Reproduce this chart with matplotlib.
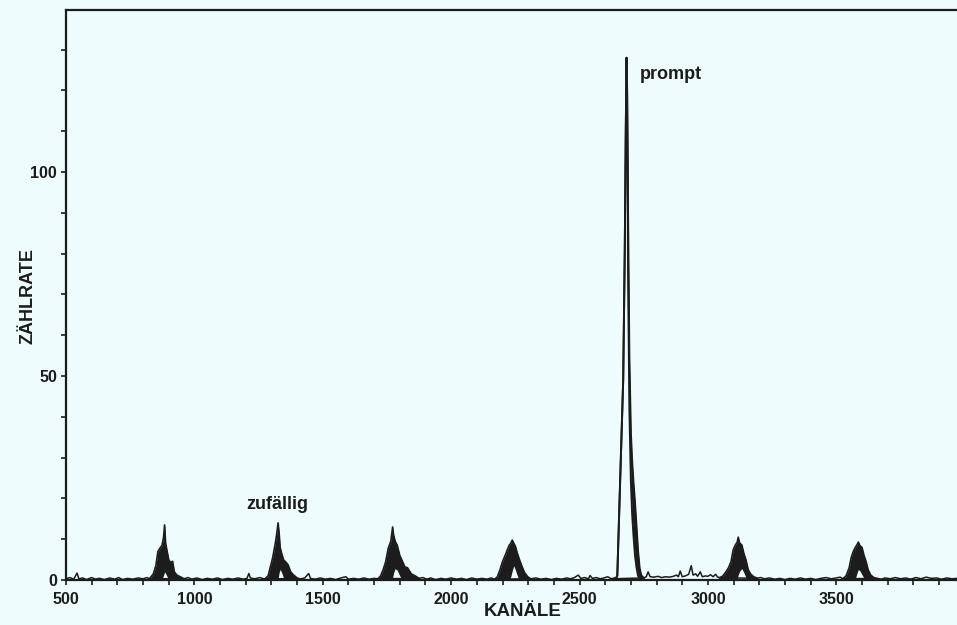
import matplotlib
matplotlib.use("Agg")
import matplotlib.pyplot as plt
from matplotlib.ticker import MultipleLocator

plt.rcParams['font.family'] = ['Liberation Sans', 'DejaVu Sans']

# untergrund zwischen den peaks (kanal, zaehlrate)
bg_ch = [500, 515, 530, 543, 550, 565, 580, 600, 615, 630, 650, 670, 690, 705, 720, 740, 760, 780, 800, 815, 825,
         960, 975, 990, 1010, 1030, 1050, 1070, 1090, 1110, 1130, 1150, 1170, 1190, 1205, 1212, 1218, 1235, 1255, 1270,
         1415, 1430, 1445, 1452, 1470, 1490, 1510, 1530, 1550, 1570, 1590, 1600, 1620, 1640, 1660, 1680, 1700, 1715,
         1875, 1890, 1905, 1920, 1940, 1960, 1980, 2000, 2020, 2040, 2060, 2080, 2100, 2120, 2140, 2155, 2170,
         2310, 2330, 2350, 2370, 2390, 2410, 2430, 2450, 2465, 2480, 2495, 2505, 2520, 2535, 2541, 2550, 2565, 2580,
         2595, 2610, 2620, 2630,
         2750, 2760, 2767, 2775, 2790, 2805, 2820, 2835, 2850, 2865, 2878, 2885, 2892, 2900, 2912, 2925, 2935, 2942,
         2952, 2960, 2970, 2978, 2990, 3000, 3010, 3020, 3030, 3038, 3045,
         3190, 3205, 3220, 3240, 3260, 3280, 3300, 3320, 3340, 3360, 3380, 3400, 3420, 3440, 3460, 3480, 3500, 3515, 3525,
         3660, 3675, 3690, 3710, 3730, 3750, 3770, 3790, 3810, 3830, 3850, 3870, 3890, 3910, 3930, 3950, 3970]
bg_ct = [0.3, 0.6, 0.2, 1.7, 0.3, 0.5, 0.1, 0.6, 0.2, 0.4, 0.1, 0.5, 0.2, 0.6, 0.1, 0.4, 0.2, 0.5, 0.3, 0.6, 0.3,
         0.3, 0.6, 0.2, 0.5, 0.1, 0.4, 0.2, 0.5, 0.1, 0.4, 0.2, 0.5, 0.2, 0.4, 1.6, 0.5, 0.3, 0.6, 0.3,
         0.3, 0.5, 1.6, 0.4, 0.2, 0.5, 0.2, 0.4, 0.1, 0.5, 0.8, 0.2, 0.4, 0.2, 0.5, 0.2, 0.4, 0.3,
         0.4, 0.6, 0.2, 0.5, 0.1, 0.4, 0.2, 0.5, 0.2, 0.4, 0.1, 0.5, 0.2, 0.4, 0.2, 0.5, 0.2,
         0.3, 0.5, 0.2, 0.4, 0.1, 0.4, 0.2, 0.5, 0.3, 0.6, 1.2, 0.4, 0.6, 0.3, 1.1, 0.4, 0.6, 0.3,
         0.5, 0.8, 0.4, 0.3,
         0.5, 0.8, 2.0, 0.8, 0.7, 0.9, 0.6, 0.8, 0.7, 0.9, 1.2, 0.8, 2.2, 0.8, 1.0, 1.4, 3.5, 1.2,
         1.5, 0.9, 2.0, 0.8, 1.0, 0.9, 1.3, 0.8, 1.4, 0.7, 0.6,
         0.4, 0.6, 0.3, 0.5, 0.2, 0.4, 0.1, 0.4, 0.2, 0.5, 0.2, 0.4, 0.1, 0.4, 0.6, 0.3, 0.5, 0.7, 0.3,
         0.4, 0.2, 0.5, 0.3, 0.6, 0.3, 0.5, 0.2, 0.6, 0.3, 0.7, 0.4, 0.5, 0.2, 0.5, 0.3, 0.4]

# zufaellige koinzidenzen: obere und untere huellkurve
p1_ch = [825, 840, 850, 858, 866, 874, 880, 884, 888, 894, 900, 908, 915, 922, 932, 945, 960]
p1_hi = [0.3, 1.5, 3.5, 7.0, 7.8, 8.5, 10.5, 13.5, 9.0, 7.0, 5.0, 4.2, 4.6, 2.0, 1.2, 0.8, 0.3]
p1_lo = [0, 0, 0, 0, 0, 0.2, 1.2, 2.0, 1.6, 0.8, 0, 0, 0, 0, 0, 0, 0]

p2_ch = [1275, 1287, 1297, 1305, 1314, 1320, 1326, 1330, 1334, 1340, 1347, 1356, 1365, 1375, 1385, 1400, 1415]
p2_hi = [0.3, 1.0, 3.5, 5.5, 8.6, 11.0, 14.0, 11.5, 8.0, 6.5, 5.0, 4.4, 3.7, 2.0, 1.3, 0.5, 0.2]
p2_lo = [0, 0, 0, 0, 0, 0, 0.3, 1.8, 2.6, 1.8, 0.5, 0, 0, 0, 0, 0, 0]

p3_ch = [1715, 1725, 1735, 1745, 1755, 1765, 1772, 1776, 1782, 1790, 1800, 1810, 1820, 1830, 1845, 1860, 1875]
p3_hi = [0.3, 1.0, 2.5, 4.5, 7.8, 9.5, 13.0, 11.0, 9.5, 8.5, 6.0, 4.6, 3.2, 3.0, 1.5, 1.0, 0.4]
p3_lo = [0, 0, 0, 0, 0, 0, 0.6, 1.8, 2.8, 2.4, 1.0, 0, 0, 0, 0, 0, 0]

p4_ch = [2170, 2180, 2190, 2200, 2210, 2218, 2226, 2232, 2238, 2244, 2250, 2258, 2266, 2276, 2286, 2298, 2310]
p4_hi = [0.2, 0.8, 2.5, 4.5, 6.0, 7.3, 8.5, 9.0, 9.8, 9.0, 8.3, 6.5, 5.0, 3.3, 1.8, 0.8, 0.3]
p4_lo = [0, 0, 0, 0, 0, 0, 0, 0.8, 2.3, 3.5, 2.5, 1.0, 0, 0, 0, 0, 0]

p5_ch = [3045, 3058, 3070, 3080, 3090, 3098, 3106, 3114, 3118, 3124, 3132, 3140, 3148, 3157, 3166, 3178, 3190]
p5_hi = [0.5, 1.0, 2.0, 3.0, 4.5, 7.3, 8.5, 9.3, 10.5, 9.0, 8.6, 6.5, 5.0, 2.5, 1.5, 0.8, 0.5]
p5_lo = [0, 0, 0, 0, 0, 0, 0, 0.3, 1.3, 2.2, 2.8, 1.8, 0.6, 0, 0, 0, 0]

p6_ch = [3525, 3538, 3550, 3558, 3566, 3574, 3580, 3586, 3592, 3600, 3608, 3616, 3624, 3634, 3646, 3660]
p6_hi = [0.3, 1.0, 3.0, 5.5, 7.0, 8.0, 8.6, 9.3, 8.4, 8.0, 6.0, 4.5, 2.5, 1.2, 0.6, 0.3]
p6_lo = [0, 0, 0, 0, 0, 0.3, 1.6, 2.6, 2.2, 1.3, 0.4, 0, 0, 0, 0, 0]

# prompt-peak: linke flanke einfach, rechte flanke verrauscht
pr_ch = [2630, 2642, 2647, 2658, 2670, 2676, 2680, 2683, 2686, 2689, 2694, 2700, 2705, 2710, 2716, 2722, 2728, 2734, 2740, 2750]
pr_hi = [0.3, 0.5, 1.0, 24, 49, 80, 110, 128, 118, 90, 55, 36, 29, 24, 19, 13, 7, 3, 1.2, 0.5]
pr_lo = [0.3, 0.5, 1.0, 24, 49, 80, 110, 128, 110, 75, 42, 24, 16, 11, 6, 3, 1.0, 0.5, 0.5, 0.5]

random_peaks = [(p1_ch, p1_hi, p1_lo), (p2_ch, p2_hi, p2_lo), (p3_ch, p3_hi, p3_lo),
                (p4_ch, p4_hi, p4_lo), (p5_ch, p5_hi, p5_lo), (p6_ch, p6_hi, p6_lo)]

ink = '#1c1c1c'
paper = '#eefcfd'

fig = plt.figure(figsize=(9.57, 6.25), dpi=100, facecolor=paper)
ax = fig.add_axes([66 / 957, 45 / 625, 891 / 957, 570 / 625], facecolor=paper)

ax.plot(bg_ch, bg_ct, color=ink, lw=1.1)
for ch, hi, lo in random_peaks:
    ax.fill_between(ch, lo, hi, color=ink, lw=0)
    ax.plot(ch, hi, color=ink, lw=1.2)
ax.fill_between(pr_ch, pr_lo, pr_hi, color=ink, lw=0)
ax.plot(pr_ch, pr_hi, color=ink, lw=1.4)
ax.plot(pr_ch, pr_lo, color=ink, lw=1.4)

ax.set_xlim(500, 3970)
ax.set_ylim(0, 139.7)

ax.xaxis.set_major_locator(MultipleLocator(500))
ax.xaxis.set_minor_locator(MultipleLocator(100))
ax.yaxis.set_major_locator(MultipleLocator(50))
ax.yaxis.set_minor_locator(MultipleLocator(10))
ax.tick_params(which='both', direction='out', length=3.5, width=1.2, color=ink,
               labelsize=11.5, labelcolor=ink)
ax.tick_params(axis='x', which='major', pad=5)
ax.tick_params(axis='y', which='major', pad=3)
for lab in ax.get_xticklabels() + ax.get_yticklabels():
    lab.set_fontweight('bold')

for side in ['left', 'top', 'bottom']:
    ax.spines[side].set_color(ink)
    ax.spines[side].set_linewidth(1.6)
ax.spines['right'].set_visible(False)

ax.text((523 - 66) / 891, -(612 - 580) / 570, 'KANÄLE', transform=ax.transAxes,
        ha='center', va='center', fontsize=13.5, fontweight='bold', color=ink)
ax.text(-(66 - 28) / 891, 0.498, 'ZÄHLRATE', transform=ax.transAxes, rotation=90,
        ha='center', va='center', fontsize=13, fontweight='bold', color=ink)

ax.text(2735, 124, 'prompt', ha='left', va='center', fontsize=13, fontweight='bold', color=ink)
ax.text(1322, 18.4, 'zufällig', ha='center', va='center', fontsize=13, fontweight='bold', color=ink)

fig.savefig('out.png', dpi=100, facecolor=paper)
